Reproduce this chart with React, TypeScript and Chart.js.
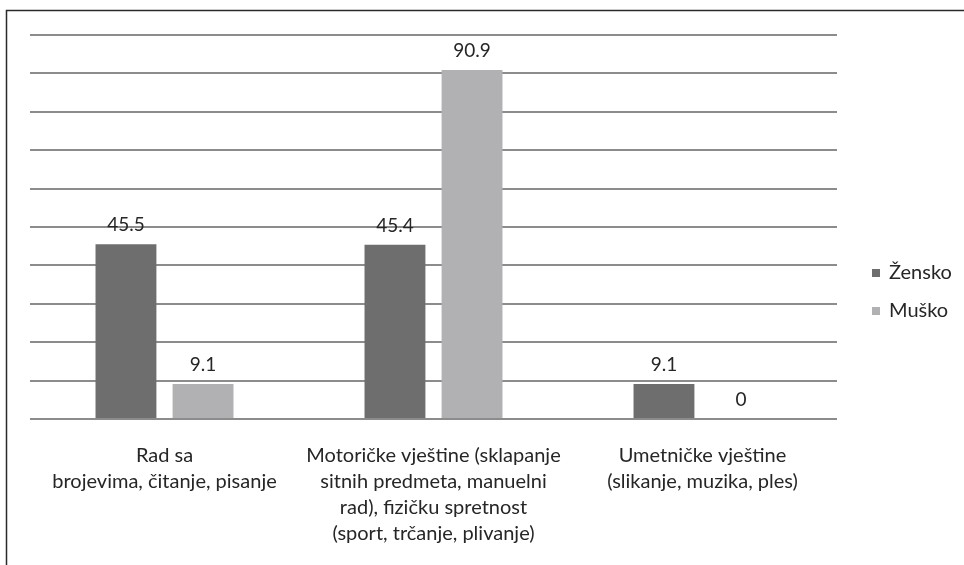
import React, { useEffect, useRef } from "react";
import { Chart, registerables } from "chart.js";

Chart.register(...registerables);

const categories: string[][] = [
  ["Rad sa", "brojevima, čitanje, pisanje"],
  ["Motoričke vještine (sklapanje", "sitnih predmeta, manuelni", "rad), fizičku spretnost", "(sport, trčanje, plivanje)"],
  ["Umetničke vještine", "(slikanje, muzika, ples)"],
];
const zenskoValues = [45.5, 45.4, 9.1];
const muskoValues = [9.1, 90.9, 0];
const seriesNames = ["Žensko", "Muško"];
const seriesColors = ["#6e6e6e", "#b1b1b3"];

const FONT = "Lato, 'Noto Sans', sans-serif";
const TEXT = "#262626";

const framePlugin = {
  id: "frame",
  beforeDraw(chart: any) {
    const ctx = chart.ctx;
    ctx.save();
    ctx.fillStyle = "#ffffff";
    ctx.fillRect(0, 0, chart.width, chart.height);
    ctx.strokeStyle = "#2a2a2a";
    ctx.lineWidth = 1.5;
    ctx.beginPath();
    ctx.moveTo(6.5, chart.height + 5);
    ctx.lineTo(6.5, 10.5);
    ctx.lineTo(chart.width + 5, 10.5);
    ctx.stroke();
    ctx.restore();
  },
};

const valueLabelPlugin = {
  id: "valueLabels",
  afterDatasetsDraw(chart: any) {
    const ctx = chart.ctx;
    ctx.save();
    ctx.font = `19px ${FONT}`;
    ctx.fillStyle = TEXT;
    ctx.textAlign = "center";
    ctx.textBaseline = "middle";
    chart.data.datasets.forEach((ds: any, i: number) => {
      const meta = chart.getDatasetMeta(i);
      meta.data.forEach((bar: any, j: number) => {
        ctx.fillText(String(ds.data[j]), bar.x, bar.y - 19);
      });
    });
    ctx.restore();
  },
};

const legendPlugin = {
  id: "customLegend",
  afterDraw(chart: any) {
    const ctx = chart.ctx;
    ctx.save();
    ctx.font = `20px ${FONT}`;
    ctx.textBaseline = "middle";
    ctx.textAlign = "left";
    const ys = [273, 311];
    chart.data.datasets.forEach((ds: any, i: number) => {
      ctx.fillStyle = ds.backgroundColor;
      ctx.fillRect(872, ys[i] - 4, 8, 8);
      ctx.fillStyle = TEXT;
      ctx.fillText(ds.label, 889, ys[i]);
    });
    ctx.restore();
  },
};

export default function App() {
  const ref = useRef<HTMLCanvasElement>(null);
  useEffect(() => {
    if (!ref.current) return;
    const chart = new Chart(ref.current, {
      type: "bar",
      data: {
        labels: categories,
        datasets: [
          { label: seriesNames[0], data: zenskoValues, backgroundColor: seriesColors[0] },
          { label: seriesNames[1], data: muskoValues, backgroundColor: seriesColors[1] },
        ],
      },
      options: {
        animation: false,
        responsive: false,
        maintainAspectRatio: false,
        devicePixelRatio: 1,
        layout: { padding: { left: 30, right: 127, top: 35, bottom: 0 } },
        datasets: { bar: { categoryPercentage: 0.573, barPercentage: 0.79 } },
        plugins: { legend: { display: false }, tooltip: { enabled: false } },
        scales: {
          x: {
            grid: { display: false, drawTicks: false },
            border: { display: false },
            ticks: {
              color: TEXT,
              font: { family: FONT, size: 20, lineHeight: 1.3 },
              padding: 24,
              maxRotation: 0,
              autoSkip: false,
            },
            afterFit(scale: any) {
              scale.height = 565 - 419;
            },
          },
          y: {
            min: 0,
            max: 100,
            ticks: { display: false, stepSize: 10 },
            grid: { color: "#8c8c8c", lineWidth: 2, drawTicks: false },
            border: { display: false },
          },
        },
      },
      plugins: [framePlugin, valueLabelPlugin, legendPlugin],
    });
    return () => chart.destroy();
  }, []);
  return (
    <div style={{ position: "absolute", left: 0, top: 0, width: 964, height: 565 }}>
      <canvas ref={ref} width={964} height={565} style={{ width: 964, height: 565 }} />
    </div>
  );
}
